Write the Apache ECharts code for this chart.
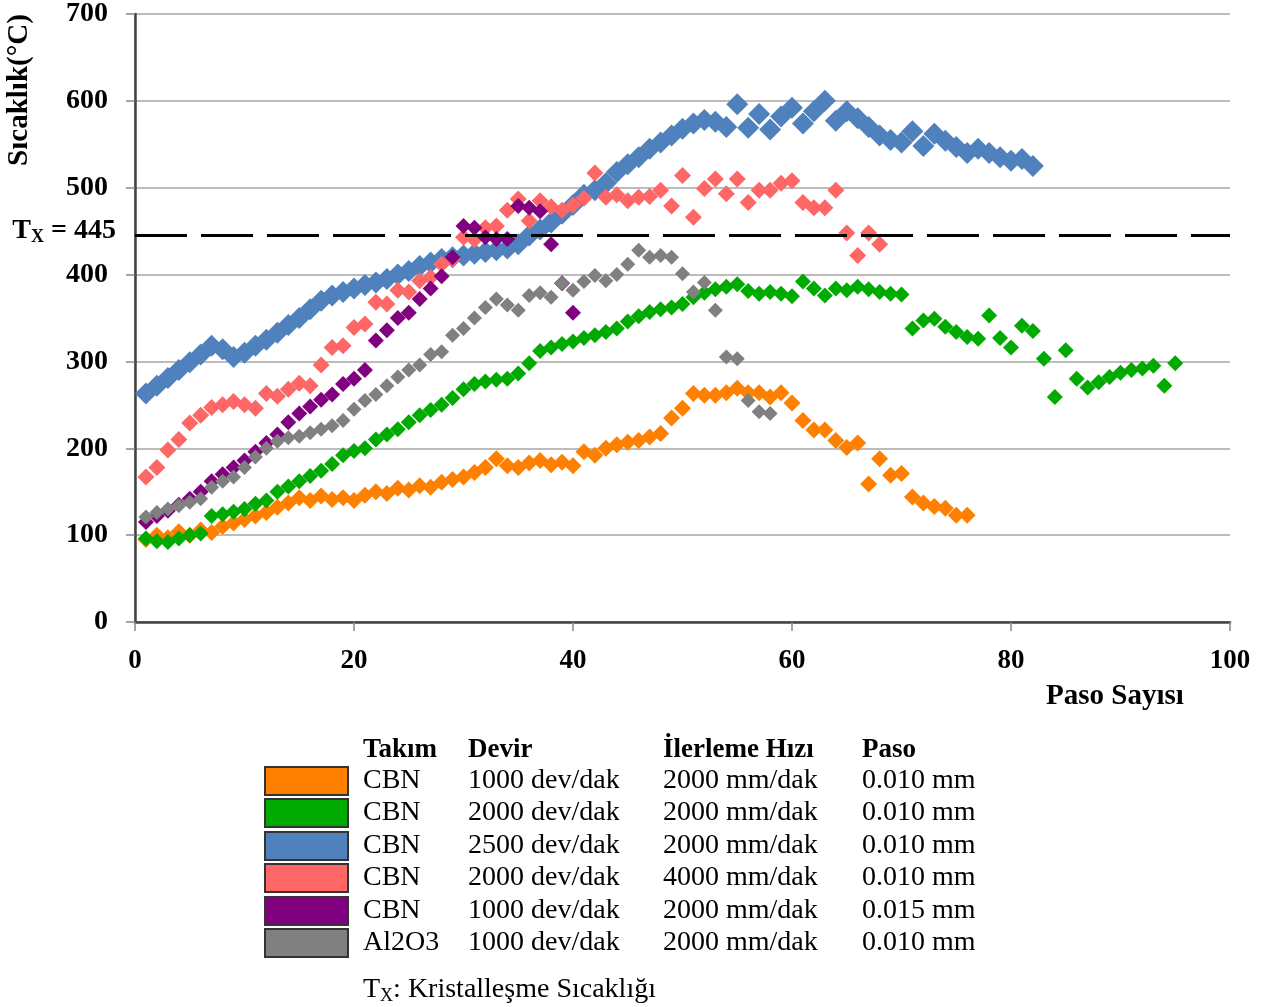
<!DOCTYPE html>
<html>
<head>
<meta charset="utf-8">
<script src="https://cdn.jsdelivr.net/npm/echarts@6/dist/echarts.min.js"></script>
<style>
  html, body { margin: 0; padding: 0; background: #fff; }
  #chart { width: 1263px; height: 1007px; }
</style>
</head>
<body>
<div id="chart"></div>
<script>
// sıcaklık değerleri, paso 1'den başlar
const orangeTemp = [95,100,97,104,100,106,103,110,114,118,
  122,126,132,137,143,140,145,141,143,140,
  146,150,148,154,152,157,155,161,164,167,
  172,178,188,180,178,183,186,181,184,180,
  196,192,200,204,207,209,213,217,235,246,
  263,261,261,264,269,264,264,259,264,252,
  232,221,221,209,201,206,159,188,169,171,
  144,137,133,131,123,123];
const greenTemp = [96,93,92,96,100,102,122,124,127,130,
  136,140,150,156,162,168,174,182,192,197,
  200,210,216,222,230,238,244,250,258,268,
  274,277,279,280,286,298,312,316,320,323,
  327,330,334,338,346,352,357,360,362,366,
  374,379,383,386,389,381,378,380,378,375,
  392,384,376,384,382,386,383,380,378,377,
  338,347,349,340,334,328,326,353,327,316,
  341,335,303,259,313,280,270,276,282,287,
  290,292,295,272,298];
const blueTemp = [263,272,281,290,299,308,318,314,305,310,
  318,325,333,342,350,360,370,376,380,384,
  388,391,395,400,404,410,414,418,420,422,
  424,426,428,430,435,445,452,460,470,480,
  492,497,505,518,527,535,545,552,560,568,
  574,578,576,570,596,569,585,567,582,592,
  574,588,600,577,588,580,570,560,555,552,
  565,548,562,554,547,540,545,540,535,531,
  533,525];
const pinkTemp = [167,178,198,210,229,238,247,250,254,250,
  246,263,260,268,275,272,296,316,318,339,
  343,368,366,382,380,393,397,412,418,443,
  440,454,456,474,487,462,485,478,474,480,
  488,517,489,492,485,489,490,497,479,514,
  466,499,510,493,510,483,497,497,505,508,
  483,477,477,497,448,422,448,435];
const purpleTemp = [115,122,128,135,142,150,162,170,178,186,
  196,206,216,230,240,248,256,262,274,280,
  290,324,336,350,356,372,384,398,420,456,
  454,443,441,441,479,477,473,435,390,356];
const grayTemp = [121,126,130,134,138,142,155,162,167,178,
  190,200,208,212,214,218,222,226,232,245,
  255,262,272,282,290,296,308,311,330,338,
  350,362,372,365,359,376,379,374,390,382,
  392,399,393,400,412,428,420,422,420,401,
  380,391,359,305,303,255,242,240];

const crystalTemp = 445;
const xTicks = [0, 20, 40, 60, 80, 100];
const yTicks = [0, 100, 200, 300, 400, 500, 600, 700];

// lejant tablosu
const legendHead = ['Takım', 'Devir', 'İlerleme Hızı', 'Paso'];
const tools = ['CBN', 'CBN', 'CBN', 'CBN', 'CBN', 'Al2O3'];
const speeds = ['1000 dev/dak', '2000 dev/dak', '2500 dev/dak', '2000 dev/dak', '1000 dev/dak', '1000 dev/dak'];
const feeds = ['2000 mm/dak', '2000 mm/dak', '2000 mm/dak', '4000 mm/dak', '2000 mm/dak', '2000 mm/dak'];
const depths = ['0.010 mm', '0.010 mm', '0.010 mm', '0.010 mm', '0.015 mm', '0.010 mm'];
const colors = ['#ff8000', '#00aa00', '#4f81bd', '#ff6666', '#800080', '#808080'];
const symbolSizes = [17, 16, 22, 17, 16, 15];

const allTemps = [orangeTemp, greenTemp, blueTemp, pinkTemp, purpleTemp, grayTemp];

const FONT = '"Liberation Serif", "Times New Roman", serif';

function toPoints(arr) {
  return arr.map((v, i) => [i + 1, v]).filter(p => p[1] != null);
}

const series = allTemps.map((arr, i) => {
  const s = {
    type: 'scatter',
    name: tools[i] + ' ' + speeds[i],
    symbol: 'diamond',
    symbolSize: symbolSizes[i],
    itemStyle: { color: colors[i], opacity: 1 },
    data: toPoints(arr),
    silent: true
  };
  if (i === 0) {
    s.markLine = {
      silent: true,
      symbol: 'none',
      label: { show: false },
      lineStyle: { color: '#000', width: 3, type: [52, 14] },
      data: [{ yAxis: crystalTemp }],
      z: 10
    };
  }
  return s;
});

const graphic = [];
// eksen adları
graphic.push({
  type: 'text', x: 20, y: 90, rotation: Math.PI / 2,
  style: { text: 'Sıcaklık(°C)', font: 'bold 29px ' + FONT, fill: '#000', textAlign: 'center', textVerticalAlign: 'middle' }
});
graphic.push({
  type: 'text', x: 1115, y: 697,
  style: { text: 'Paso Sayısı', font: 'bold 29px ' + FONT, fill: '#000', textAlign: 'center', textVerticalAlign: 'middle' }
});
// Tx = 445 etiketi
graphic.push({
  type: 'text', x: 116, y: 231,
  style: {
    text: '{t|T}{s|X}{t| = ' + crystalTemp + '}',
    textAlign: 'right', textVerticalAlign: 'middle',
    rich: {
      t: { font: 'bold 28px ' + FONT, fill: '#000', verticalAlign: 'middle', lineHeight: 30 },
      s: { font: 'bold 18px ' + FONT, fill: '#000', verticalAlign: 'bottom', lineHeight: 22 }
    }
  }
});
// tablo başlıkları
const colX = [363, 468, 663, 862];
legendHead.forEach((h, i) => {
  graphic.push({
    type: 'text', x: colX[i], y: 750,
    style: { text: h, font: 'bold 27px ' + FONT, fill: '#000', textVerticalAlign: 'middle' }
  });
});
const rowY = [781, 813, 846, 878, 911, 943];
rowY.forEach((y, i) => {
  graphic.push({
    type: 'rect', shape: { x: 265, y: y - 14, width: 83, height: 28 },
    style: { fill: colors[i], stroke: '#333', lineWidth: 2 }
  });
  [tools[i], speeds[i], feeds[i], depths[i]].forEach((t, j) => {
    graphic.push({
      type: 'text', x: colX[j], y: y,
      style: { text: t, font: '28px ' + FONT, fill: '#000', textVerticalAlign: 'middle' }
    });
  });
});
graphic.push({
  type: 'text', x: 363, y: 990,
  style: {
    text: '{t|T}{s|X}{t|: Kristalleşme Sıcaklığı}',
    textVerticalAlign: 'middle',
    rich: {
      t: { font: '28px ' + FONT, fill: '#000', verticalAlign: 'middle', lineHeight: 30 },
      s: { font: '18px ' + FONT, fill: '#000', verticalAlign: 'bottom', lineHeight: 22 }
    }
  }
});

const option = {
  animation: false,
  backgroundColor: '#fff',
  grid: { left: 135, right: 33, top: 13, bottom: 385, containLabel: false },
  xAxis: [
    {
      type: 'value', min: xTicks[0], max: xTicks[xTicks.length - 1], interval: 20,
      axisLine: { show: true, onZero: false, lineStyle: { color: '#888', width: 1.5 } },
      axisTick: { show: true, length: 9, lineStyle: { color: '#888', width: 1.5 } },
      axisLabel: { margin: 26, color: '#000', fontFamily: FONT, fontWeight: 'bold', fontSize: 27 },
      splitLine: { show: false }
    },
    {
      type: 'value', position: 'top', min: 0, max: 100,
      axisLine: { show: true, lineStyle: { color: '#444', width: 2.5 } },
      axisTick: { show: false }, axisLabel: { show: false }, splitLine: { show: false }
    }
  ],
  yAxis: [
    {
      type: 'value', min: yTicks[0], max: yTicks[yTicks.length - 1], interval: 100,
      axisLine: { show: true, onZero: false, lineStyle: { color: '#888', width: 1.5 } },
      axisTick: { show: true, length: 9, lineStyle: { color: '#888', width: 1.5 } },
      axisLabel: { margin: 27, color: '#000', fontFamily: FONT, fontWeight: 'bold', fontSize: 28 },
      splitLine: { show: true, lineStyle: { color: '#a6a6a6', width: 1.5 } }
    },
    {
      type: 'value', position: 'right', min: 0, max: 700,
      axisLine: { show: true, lineStyle: { color: '#444', width: 2.5 } },
      axisTick: { show: false }, axisLabel: { show: false }, splitLine: { show: false }
    }
  ],
  series: series,
  graphic: graphic
};

const chart = echarts.init(document.getElementById('chart'));
chart.setOption(option);
</script>
</body>
</html>
